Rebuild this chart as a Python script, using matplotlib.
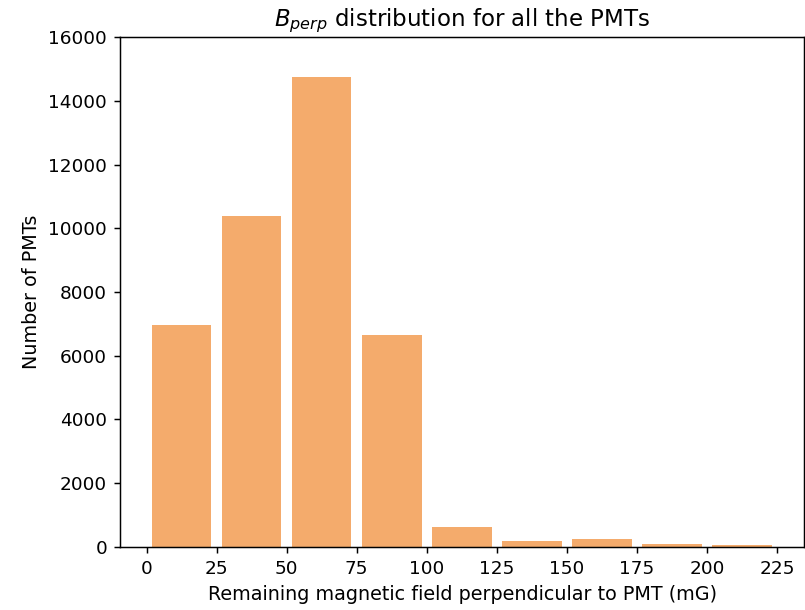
import numpy as np
import matplotlib
matplotlib.use("Agg")
import matplotlib.pyplot as plt

# Histogramm-Daten
bin_edges = [0, 25, 50, 75, 100, 125, 150, 175, 200, 225]
counts = [6965, 10390, 14735, 6650, 627, 188, 240, 104, 60]
x_ticks = [0, 25, 50, 75, 100, 125, 150, 175, 200, 225]
y_ticks = [0, 2000, 4000, 6000, 8000, 10000, 12000, 14000, 16000]

centers = (np.array(bin_edges[:-1]) + np.array(bin_edges[1:])) / 2

DPI = 133
fig = plt.figure(figsize=(805 / DPI, 610 / DPI), dpi=DPI)
ax = fig.add_axes([0.149, 0.1033, 0.850, 0.836])

ax.hist(centers, bins=bin_edges, weights=counts, rwidth=0.85,
        color="sandybrown", alpha=0.92)

ax.set_xlim(-9.5, 234.7)
ax.set_ylim(0, 16000)
ax.set_xticks(x_ticks)
ax.set_yticks(y_ticks)

ax.set_xlabel("Remaining magnetic field perpendicular to PMT (mG)", fontsize=10.35)
ax.set_ylabel("Number of PMTs", fontsize=10.35)
ax.set_title("$B_{perp}$ distribution for all the PMTs", fontsize=12.4)

fig.savefig("out.png", dpi=DPI)
